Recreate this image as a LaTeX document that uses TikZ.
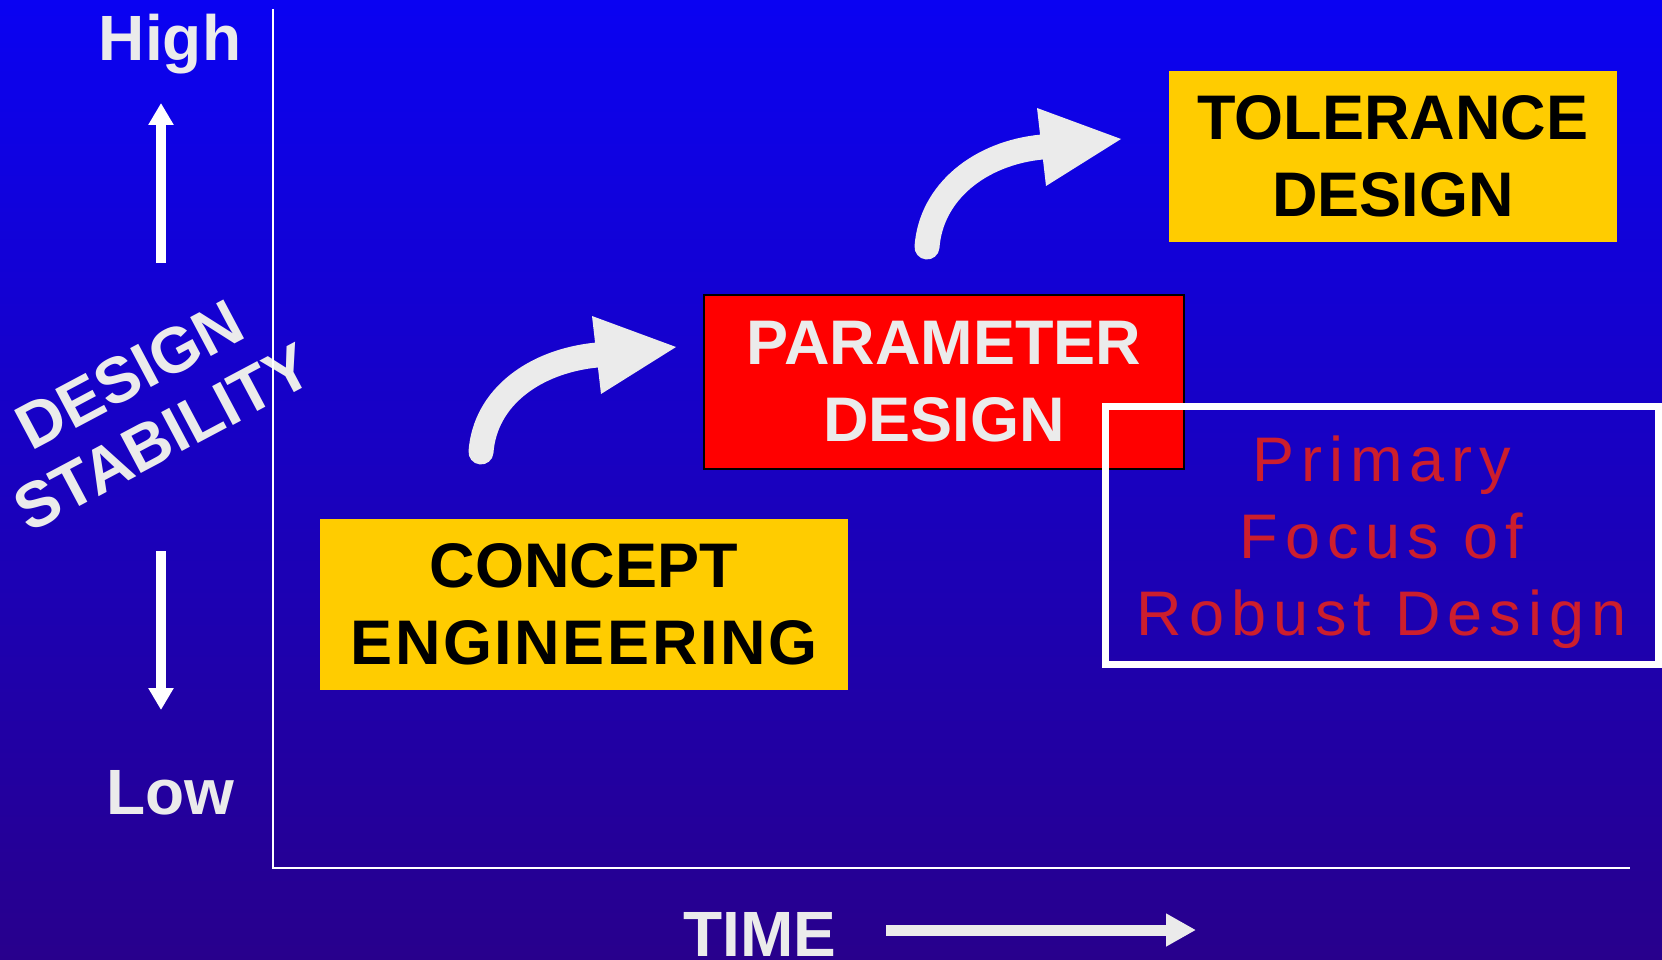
\documentclass[tikz,border=0pt]{standalone}
\usepackage{fontspec}
\setmainfont{Liberation Sans}
\newfontfamily\focusfont[LetterSpace=11]{Liberation Sans}
\usetikzlibrary{arrows.meta}
\definecolor{bgtop}{RGB}{10,2,242}
\definecolor{bgbottom}{RGB}{40,0,140}
\definecolor{labelgray}{RGB}{235,235,235}
\definecolor{boxyellow}{RGB}{255,204,0}
\definecolor{focusred}{RGB}{205,30,45}
\begin{document}
\begin{tikzpicture}[x=1pt, y=-1pt,
    biglabel/.style={text=labelgray, font=\fontsize{64}{74}\selectfont\bfseries},
    stage/.style={inner sep=0pt, align=center, minimum height=171pt, font=\fontsize{63}{77}\selectfont\bfseries},
    stabarrow/.style={draw=white, line width=10pt, -{Triangle[length=22pt, width=24pt]}},
    bendarrow/.style={draw=labelgray, line width=25pt, line cap=round}]
    \useasboundingbox (0,0) rectangle (1662,960);
    \shade[top color=bgtop, bottom color=bgbottom] (0,0) rectangle (1662,960);
    % stability scale on the left
    \node[biglabel, anchor=base] (high) at (170,61) {High};
    \node[biglabel, anchor=base] (low) at (170,814) {Low};
    \node[text=labelgray, align=center, rotate=28, font=\fontsize{64}{71}\selectfont\bfseries] (stability) at (146,406) {DESIGN\\STABILITY};
    \coordinate (up-from) at (161,263);
    \coordinate (up-to) at (161,103);
    \coordinate (down-from) at (161,551);
    \coordinate (down-to) at (161,710);
    \draw[stabarrow] (up-from) -- (up-to);
    \draw[stabarrow] (down-from) -- (down-to);
    % axes
    \coordinate (origin) at (273,868);
    \draw[white, line width=2.5pt] (273,9) -- (origin) -- (1630,868);
    \node[biglabel, anchor=base] (time) at (760,956) {TIME};
    \coordinate (time-from) at (886,930);
    \coordinate (time-to) at (1196,930);
    \draw[draw=labelgray, line width=11pt, -{Triangle[length=30pt, width=31pt]}] (time-from) -- (time-to);
    % the three stages
    \node[stage, fill=boxyellow, minimum width=528pt] (concept) at (584,604.5) {CONCEPT\\{\addfontfeatures{LetterSpace=4}ENGINEERING}};
    \node[stage, fill=red, draw=black, line width=2.5pt, text=labelgray, minimum width=480pt, minimum height=174pt] (parameter) at (944,382) {PARAMETER\\DESIGN};
    \node[stage, fill=boxyellow, minimum width=448pt] (tolerance) at (1393,156.5) {TOLERANCE\\DESIGN};
    % bent arrows between the stages
    \coordinate (bendA-tail) at (481,452);
    \coordinate (bendA-head) at (597,355);
    \draw[bendarrow] (bendA-tail) .. controls +(4,-55) and +(-62,6) .. (bendA-head);
    \fill[labelgray, shift={(bendA-head)}] (-5,-39) -- (79,-8) -- (4,39) -- cycle;
    \coordinate (bendB-tail) at (927,247);
    \coordinate (bendB-head) at (1042,147);
    \draw[bendarrow] (bendB-tail) .. controls +(4,-55) and +(-62,6) .. (bendB-head);
    \fill[labelgray, shift={(bendB-head)}] (-5,-39) -- (79,-8) -- (4,39) -- cycle;
    % focus frame
    \node[draw=white, line width=7pt, minimum width=553pt, minimum height=258pt, inner sep=0pt, align=center, text=focusred, text depth=0pt, font=\fontsize{63}{77}\selectfont\focusfont] (focus) at (1381.5,535.5) {Primary\\Focus of\\Robust Design};
\end{tikzpicture}
\end{document}
